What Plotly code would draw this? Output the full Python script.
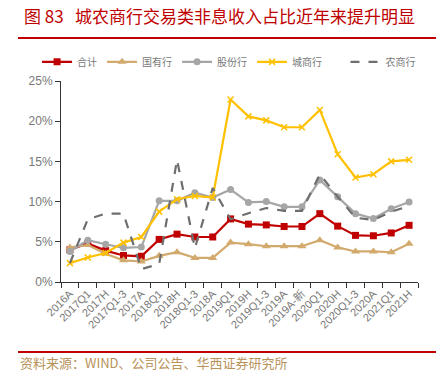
import plotly.graph_objects as go

categories = ["2016A", "2017Q1", "2017H", "2017Q1-3", "2017A", "2018Q1", "2018H", "2018Q1-3",
              "2018A", "2019Q1", "2019H", "2019Q1-3", "2019A", "2019A-新", "2020Q1", "2020H",
              "2020Q1-3", "2020A", "2021Q1", "2021H"]
heji = [4.0, 4.8, 3.9, 3.3, 3.2, 5.3, 5.95, 5.6, 5.6, 7.85, 7.2, 7.1, 6.9, 6.9, 8.5, 6.95, 5.8, 5.75, 6.1, 7.05]
guoyou = [4.3, 4.6, 3.5, 2.7, 2.55, 3.25, 3.7, 3.0, 3.0, 4.9, 4.7, 4.45, 4.45, 4.45, 5.2, 4.3, 3.8, 3.8, 3.7, 4.75]
gufen = [3.8, 5.2, 4.7, 4.25, 4.35, 10.1, 10.1, 11.1, 10.5, 11.5, 9.9, 10.0, 9.35, 9.35, 12.7, 10.6, 8.5, 7.9, 9.1, 9.95]
chengshang = [2.35, 3.05, 3.6, 4.9, 5.6, 8.75, 10.3, 10.7, 10.5, 22.7, 20.6, 20.1, 19.25, 19.25, 21.4, 15.9, 13.0, 13.4, 15.0, 15.2]
nongshang = [2.35, 7.8, 8.5, 8.5, 1.6, 2.25, 15.2, 4.2, 11.7, 7.8, 8.55, 9.2, 8.85, 8.85, 13.4, 10.6, 8.0, 7.7, 8.75, 9.45]
y_ticks = [0, 5, 10, 15, 20, 25]
y_tick_labels = ["0%", "5%", "10%", "15%", "20%", "25%"]

FONT = "Noto Sans CJK SC"
fig = go.Figure()
fig.add_trace(go.Scatter(x=categories, y=heji, name="合计", mode="lines+markers",
                         line=dict(color="#C00000", width=2.2),
                         marker=dict(symbol="square", size=7, color="#C00000")))
fig.add_trace(go.Scatter(x=categories, y=guoyou, name="国有行", mode="lines+markers",
                         line=dict(color="#D2AA6D", width=2.2),
                         marker=dict(symbol="triangle-up", size=8, color="#D2AA6D")))
fig.add_trace(go.Scatter(x=categories, y=gufen, name="股份行", mode="lines+markers",
                         line=dict(color="#A6A6A6", width=2.2),
                         marker=dict(symbol="circle", size=7, color="#A6A6A6")))
fig.add_trace(go.Scatter(x=categories, y=chengshang, name="城商行", mode="lines+markers",
                         line=dict(color="#FFC000", width=2.2),
                         marker=dict(symbol="x-thin", size=6, color="#FFC000",
                                     line=dict(color="#FFC000", width=1.5))))
fig.add_trace(go.Scatter(x=categories, y=nongshang, name="农商行", mode="lines", legend="legend2",
                         line=dict(color="#6E6E6E", width=2.2, dash="dash")))

legend_common = dict(orientation="h", xref="container", yref="container",
                     y=0.856, xanchor="left", yanchor="middle",
                     font=dict(size=10, color="#777777"),
                     itemwidth=30, tracegroupgap=0, bgcolor="rgba(0,0,0,0)")

fig.update_layout(
    width=447, height=374,
    margin=dict(l=53, r=37, t=73, b=100, autoexpand=False),
    paper_bgcolor="white", plot_bgcolor="white",
    font=dict(family=FONT, size=11, color="#666666"),
    showlegend=True,
    legend=dict(x=0.065, **legend_common),
    legend2=dict(x=0.755, **legend_common),
    xaxis=dict(type="category", showgrid=False, showline=True, linecolor="#333333", linewidth=1,
               ticks="outside", ticklen=5, tickcolor="#333333", tickson="boundaries",
               tickangle=-45, tickfont=dict(size=11, color="#777777", family="Liberation Sans, " + FONT),
               range=[-0.5, 19.5], automargin=False),
    yaxis=dict(range=[0, 25], tickvals=y_ticks, ticktext=y_tick_labels, showgrid=False,
               showline=True, linecolor="#333333", linewidth=1, ticks="outside", ticklen=5,
               tickcolor="#333333", tickfont=dict(size=12, color="#777777", family="Liberation Sans"),
               zeroline=False, automargin=False),
)

fig.add_annotation(xref="paper", yref="paper", x=-0.11, y=1.325, xanchor="left", yanchor="middle",
                   text="图 83   城农商行交易类非息收入占比近年来提升明显", showarrow=False,
                   font=dict(family=FONT, size=17, color="#C00000"))
fig.add_annotation(xref="paper", yref="paper", x=1.065, y=1.325, xanchor="left", yanchor="middle",
                   text="图", showarrow=False, font=dict(family=FONT, size=17, color="#C00000"))
fig.add_annotation(xref="paper", yref="paper", x=-0.12, y=-0.40, xanchor="left", yanchor="middle",
                   text="资料来源：WIND、公司公告、华西证券研究所", showarrow=False,
                   font=dict(family=FONT, size=13, color="#B8925A"))
fig.add_annotation(xref="paper", yref="paper", x=1.065, y=-0.40, xanchor="left", yanchor="middle",
                   text="资", showarrow=False, font=dict(family=FONT, size=13, color="#B8925A"))
fig.add_shape(type="line", xref="paper", yref="paper", x0=-0.1204, x1=1.0504, y0=1.214, y1=1.214,
              line=dict(color="#C00000", width=2))
fig.add_shape(type="line", xref="paper", yref="paper", x0=1.062, x1=1.1, y0=1.214, y1=1.214,
              line=dict(color="#C00000", width=2))
fig.add_shape(type="line", xref="paper", yref="paper", x0=-0.1204, x1=1.0504, y0=-0.348, y1=-0.348,
              line=dict(color="#C00000", width=2))
fig.add_shape(type="line", xref="paper", yref="paper", x0=1.062, x1=1.1, y0=-0.348, y1=-0.348,
              line=dict(color="#C00000", width=2))

fig.write_html("out.html")
